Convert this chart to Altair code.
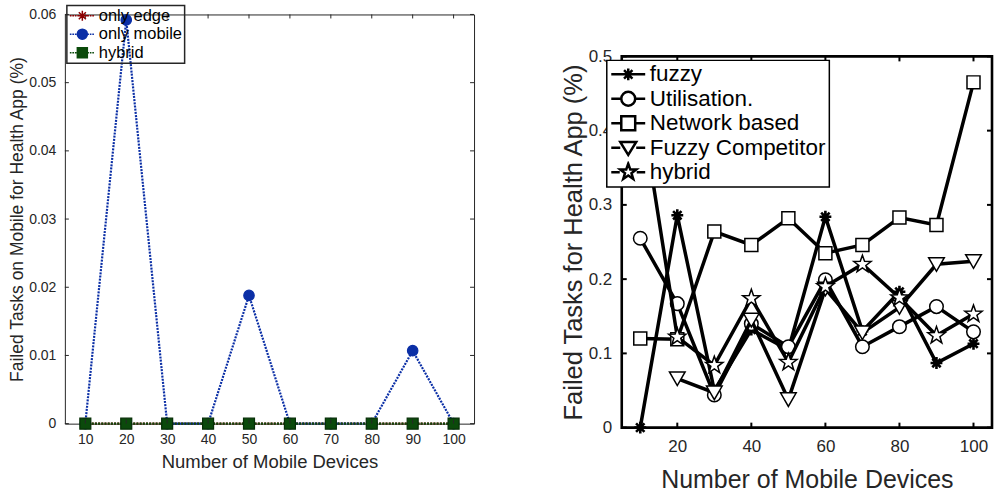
import math
import altair as alt
import pandas as pd

# ---------------- data ----------------
devices = [10, 20, 30, 40, 50, 60, 70, 80, 90, 100]

left_series = ["only edge", "only mobile", "hybrid"]
only_edge = [0, 0, 0, 0, 0, 0, 0, 0, 0, 0]
only_mobile = [0, 0.0592, 0, 0, 0.0188, 0, 0, 0, 0.0107, 0]
hybrid_left = [0, 0, 0, 0, 0, 0, 0, 0, 0, 0]

right_series = ["fuzzy", "Utilisation.", "Network based", "Fuzzy Competitor", "hybrid"]
fuzzy = [0.0, 0.286, 0.050, 0.132, 0.105, 0.284, 0.130, 0.183, 0.087, 0.113]
utilisation = [0.255, 0.167, 0.044, 0.140, 0.109, 0.199, 0.109, 0.136, 0.163, 0.129]
network_based = [0.120, 0.119, 0.264, 0.246, 0.282, 0.235, 0.246, 0.283, 0.273, 0.465]
fuzzy_competitor = [None, 0.066, 0.047, 0.145, 0.038, 0.187, 0.128, 0.162, 0.220, 0.224]
hybrid_right = [0.440, 0.122, 0.084, 0.174, 0.088, 0.190, 0.220, 0.175, 0.124, 0.153]

left_x_ticks = [10, 20, 30, 40, 50, 60, 70, 80, 90, 100]
left_y_ticks = [0, 0.01, 0.02, 0.03, 0.04, 0.05, 0.06]
right_x_ticks = [20, 40, 60, 80, 100]
right_y_ticks = [0, 0.1, 0.2, 0.3, 0.4, 0.5]

left_title_x = "Number of Mobile Devices"
left_title_y = "Failed Tasks on Mobile for Health App (%)"
right_title_x = "Number of Mobile Devices"
right_title_y = "Failed Tasks for Health App (%)"


def to_long(names, arrays):
    rows = []
    for n_, arr in zip(names, arrays):
        for x, v in zip(devices, arr):
            if v is not None:
                rows.append({"series": n_, "x": x, "y": v})
    return pd.DataFrame(rows)


df_left = to_long(left_series, [only_edge, only_mobile, hybrid_left])
df_right = to_long(right_series, [fuzzy, utilisation, network_based, fuzzy_competitor, hybrid_right])

# ---------------- style helpers ----------------
FONT = "Liberation Sans"
TXT = "#262626"


def n(v):
    s = f"{v:.3f}".rstrip("0").rstrip(".")
    return "0" if s in ("-0", "") else s


def circle_p(r):
    return f"M{n(r)},0A{n(r)},{n(r)} 0 1,1 {n(-r)},0A{n(r)},{n(r)} 0 1,1 {n(r)},0Z"


def square_p(h):
    return f"M{n(-h)},{n(-h)}H{n(h)}V{n(h)}H{n(-h)}Z"


def tri_down_p(w, top, bot):
    return f"M{n(-w)},{n(top)}H{n(w)}L0,{n(bot)}Z"


def star_p(ro, ri):
    pts = []
    for i in range(10):
        a = -math.pi / 2 + i * math.pi / 5
        r = ro if i % 2 == 0 else ri
        pts.append(f"{n(r * math.cos(a))},{n(r * math.sin(a))}")
    return "M" + "L".join(pts) + "Z"


def asterisk_p(r):
    d = r * 0.7071
    return (f"M0,{n(-r)}V{n(r)}M{n(-r)},0H{n(r)}"
            f"M{n(-d)},{n(-d)}L{n(d)},{n(d)}M{n(-d)},{n(d)}L{n(d)},{n(-d)}")


def solid_line(m):
    return f"M-1,0H{n(-m)}M{n(m)},0H1"


def dotted_line(m, dash=0.13, gap=0.07):
    segs = []
    x = -1.0
    while x < -m - 0.01:
        segs.append(f"M{n(x)},0H{n(min(x + dash, -m))}")
        x += dash + gap
    x = m
    while x < 0.99:
        segs.append(f"M{n(x)},0H{n(min(x + dash, 1))}")
        x += dash + gap
    return "".join(segs)


# ---------------- left panel ----------------
WL, HL = 410, 410
xs_L = alt.Scale(domain=[5, 105], nice=False, zero=False)
ys_L = alt.Scale(domain=[0, 0.06], nice=False, zero=False)
ax_xL = alt.Axis(values=left_x_ticks, ticks=False, tickSize=0, domain=False, grid=False,
                 labelFont=FONT, labelFontSize=14, labelColor=TXT, labelPadding=9,
                 labelFlush=False, labelOverlap=False,
                 title=left_title_x, titleFont=FONT, titleFontSize=18.5, titleFontWeight="normal",
                 titleColor=TXT, titlePadding=6)
ax_yL = alt.Axis(values=left_y_ticks, format="~g", ticks=False, tickSize=0, domain=False, grid=False,
                 labelFont=FONT, labelFontSize=14, labelColor=TXT, labelPadding=9,
                 labelFlush=False, labelOverlap=False,
                 title=left_title_y, titleFont=FONT, titleFontSize=17.5, titleFontWeight="normal",
                 titleColor=TXT, titlePadding=2)

left_colors = ["#8c0000", "#0b2fa6", "#0b4a0b"]
left_edges = ["#8c0000", "#0b2fa6", "#062e06"]
left_marker_paths = [asterisk_p(0.9), circle_p(0.95), square_p(1.0)]
left_legend_paths = [
    dotted_line(0.0) + asterisk_p(0.4),
    dotted_line(0.4) + circle_p(0.4),
    dotted_line(0.4) + square_p(0.4),
]

XL = alt.X("x:Q", scale=xs_L, axis=ax_xL)
YL = alt.Y("y:Q", scale=ys_L, axis=ax_yL)

left_layers = []
for name, col, edge, path in zip(left_series, left_colors, left_edges, left_marker_paths):
    sub = alt.Chart(df_left).transform_filter(alt.datum.series == name)
    left_layers.append(sub.mark_line(color=col, strokeWidth=2.2, strokeDash=[2, 1.2]).encode(x=XL, y=YL))
    left_layers.append(sub.mark_point(shape=path, size=121, fill=col, stroke=edge, strokeWidth=1.2,
                                      opacity=1, filled=True).encode(x=XL, y=YL))

df_lxt = pd.DataFrame({"x": left_x_ticks})
df_lyt = pd.DataFrame({"y": left_y_ticks})
left_layers += [
    alt.Chart(df_lxt).mark_rule(color=TXT, strokeWidth=1).encode(x=XL, y=alt.value(HL), y2=alt.value(HL - 4)),
    alt.Chart(df_lxt).mark_rule(color=TXT, strokeWidth=1).encode(x=XL, y=alt.value(0), y2=alt.value(4)),
    alt.Chart(df_lyt).mark_rule(color=TXT, strokeWidth=1).encode(y=YL, x=alt.value(0), x2=alt.value(4)),
    alt.Chart(df_lyt).mark_rule(color=TXT, strokeWidth=1).encode(y=YL, x=alt.value(WL), x2=alt.value(WL - 4)),
]

LEG_L = alt.Legend(title=None, orient="none", legendX=2, legendY=-9, padding=2,
                   strokeColor=TXT, fillColor="transparent", cornerRadius=0,
                   labelFont=FONT, labelFontSize=16.5, labelColor="black", labelOffset=3,
                   rowPadding=1.5, clipHeight=16.5, symbolSize=625, symbolStrokeWidth=1.5,
                   symbolOpacity=1, labelLimit=300)
left_layers.append(
    alt.Chart(df_left).transform_filter("datum.x < 0").mark_point(opacity=1, size=625, strokeWidth=1.5)
    .encode(x=XL, y=YL,
            stroke=alt.Stroke("series:N", scale=alt.Scale(domain=left_series, range=left_colors), legend=LEG_L),
            fill=alt.Fill("series:N", scale=alt.Scale(domain=left_series, range=left_colors), legend=LEG_L),
            shape=alt.Shape("series:N", scale=alt.Scale(domain=left_series, range=left_legend_paths), legend=LEG_L))
)

left_chart = alt.layer(*left_layers).properties(
    width=WL, height=HL, view=alt.ViewBackground(stroke=TXT, strokeWidth=1))

# ---------------- right panel ----------------
WR, HR = 371, 372
xs_R = alt.Scale(domain=[5, 105], nice=False, zero=False)
ys_R = alt.Scale(domain=[0, 0.5], nice=False, zero=False)
ax_xR = alt.Axis(values=right_x_ticks, ticks=False, tickSize=0, domain=False, grid=False,
                 labelFont=FONT, labelFontSize=17, labelColor=TXT, labelPadding=11,
                 labelFlush=False, labelOverlap=False,
                 title=right_title_x, titleFont=FONT, titleFontSize=25, titleFontWeight="normal",
                 titleColor=TXT, titlePadding=13)
ax_yR = alt.Axis(values=right_y_ticks, format="~g", ticks=False, tickSize=0, domain=False, grid=False,
                 labelFont=FONT, labelFontSize=17, labelColor=TXT, labelPadding=10,
                 labelFlush=False, labelOverlap=False,
                 title=right_title_y, titleFont=FONT, titleFontSize=25.5, titleFontWeight="normal",
                 titleColor=TXT, titlePadding=2)
XR = alt.X("x:Q", scale=xs_R, axis=ax_xR)
YR = alt.Y("y:Q", scale=ys_R, axis=ax_yR)

right_marker_paths = [asterisk_p(0.85), circle_p(0.97), square_p(0.93),
                      tri_down_p(1.12, -0.95, 1.0), star_p(1.3, 0.52)]
right_fills = ["black", "white", "white", "white", "white"]
right_mw = [2.6, 1.5, 1.5, 1.5, 1.5]
right_legend_paths = [
    solid_line(0.0) + asterisk_p(0.35),
    solid_line(0.41) + circle_p(0.41),
    solid_line(0.41) + square_p(0.41),
    solid_line(0.47) + tri_down_p(0.47, -0.34, 0.42),
    solid_line(0.5) + star_p(0.5, 0.2),
]

right_layers = []
for name, path, fillc, mw in zip(right_series, right_marker_paths, right_fills, right_mw):
    sub = alt.Chart(df_right).transform_filter(alt.datum.series == name)
    right_layers.append(sub.mark_line(color="black", strokeWidth=3.5).encode(x=XR, y=YR))
    right_layers.append(sub.mark_point(shape=path, size=196, fill=fillc, stroke="black", strokeWidth=mw,
                                       opacity=1, filled=True).encode(x=XR, y=YR))

df_rxt = pd.DataFrame({"x": right_x_ticks})
df_ryt = pd.DataFrame({"y": right_y_ticks})
right_layers += [
    alt.Chart(df_rxt).mark_rule(color="black", strokeWidth=2).encode(x=XR, y=alt.value(HR), y2=alt.value(HR - 5)),
    alt.Chart(df_rxt).mark_rule(color="black", strokeWidth=2).encode(x=XR, y=alt.value(0), y2=alt.value(5)),
    alt.Chart(df_ryt).mark_rule(color="black", strokeWidth=2).encode(y=YR, x=alt.value(0), x2=alt.value(5)),
    alt.Chart(df_ryt).mark_rule(color="black", strokeWidth=2).encode(y=YR, x=alt.value(WR), x2=alt.value(WR - 5)),
]

LEG_R = alt.Legend(title=None, orient="none", legendX=-15, legendY=46, padding=3,
                   strokeColor="black", fillColor="white", cornerRadius=0,
                   labelFont=FONT, labelFontSize=22.5, labelColor="black", labelOffset=3,
                   rowPadding=1.5, clipHeight=22, symbolSize=1156, symbolStrokeWidth=2.5,
                   symbolStrokeColor="black", symbolFillColor="white", symbolOpacity=1, labelLimit=400)
right_layers.append(
    alt.Chart(df_right).transform_filter("datum.x < 0")
    .mark_point(opacity=1, size=1156, strokeWidth=2.5, color="black", stroke="black", filled=False)
    .encode(x=XR, y=YR,
            shape=alt.Shape("series:N", scale=alt.Scale(domain=right_series, range=right_legend_paths),
                            legend=LEG_R))
)

right_chart = alt.layer(*right_layers).properties(
    width=WR, height=HR, view=alt.ViewBackground(stroke="black", strokeWidth=2.6))

spacer = alt.Chart(pd.DataFrame({"v": [0]})).mark_point(opacity=0).properties(
    width=WR, height=42, view=alt.ViewBackground(stroke="transparent"))

right_col = alt.vconcat(spacer, right_chart, spacing=0, bounds="flush")

chart = alt.hconcat(left_chart, right_col, spacing=148, bounds="flush").resolve_scale(
    shape="independent", stroke="independent", fill="independent", color="independent"
).resolve_legend(
    shape="independent", stroke="independent", fill="independent"
).properties(
    padding={"left": 8, "top": 3, "right": 0, "bottom": 0},
    background="white",
).configure_view(stroke="transparent").configure_legend(strokeWidth=1.5)

chart.save("out.html", embed_options={"renderer": "svg", "actions": False})
